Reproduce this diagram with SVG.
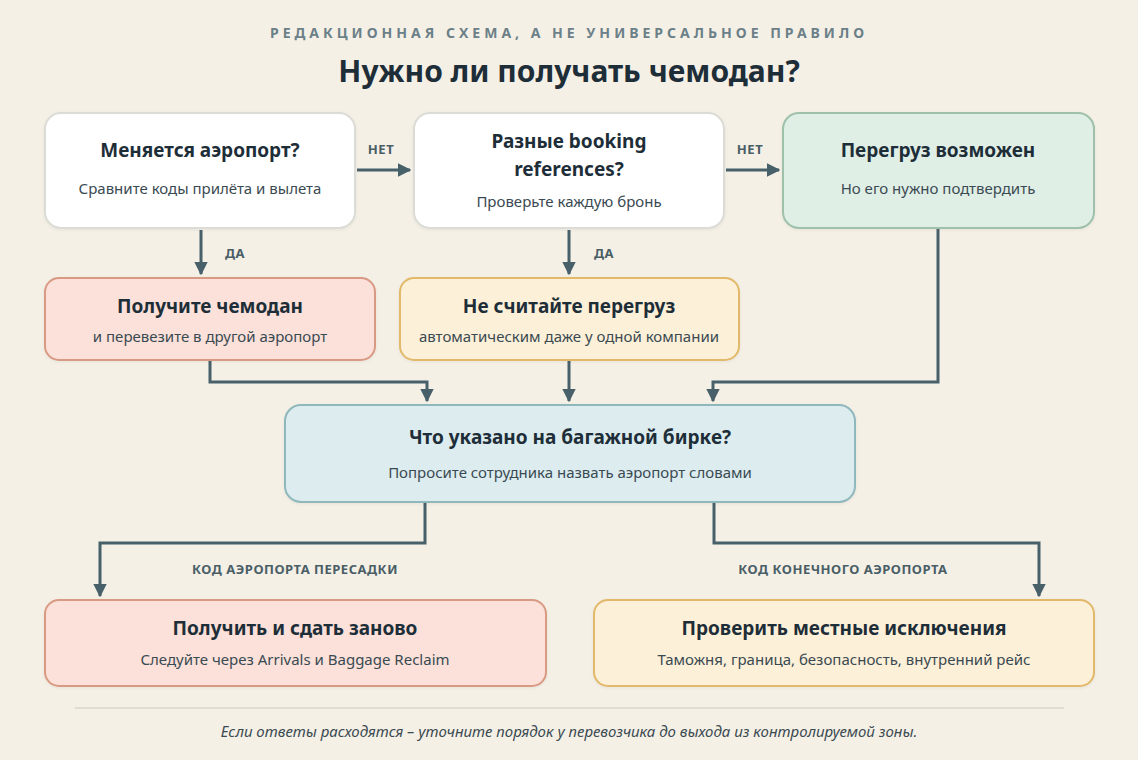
<svg xmlns="http://www.w3.org/2000/svg" width="1138" height="760" viewBox="0 0 1138 760">
<defs>
<marker id="ah" viewBox="0 0 10 10" refX="9" refY="5" markerWidth="4.5" markerHeight="4.5" orient="auto"><path d="M0,0 L10,5 L0,10 z" fill="#47606a"/></marker>
<filter id="sh" x="-5%" y="-5%" width="110%" height="120%"><feDropShadow dx="0" dy="1" stdDeviation="1.5" flood-color="#000" flood-opacity="0.06"/></filter>
</defs>
<style>
text{font-family:"Noto Sans","Open Sans","DejaVu Sans",sans-serif;fill:#1e2e38;text-anchor:middle}
.t{font-size:19px;font-weight:bold}
.s{font-size:15px;fill:#3a4a52}
.l{font-size:13px;font-weight:bold;fill:#4a5e66;letter-spacing:0.5px}
.c{fill:none;stroke:#47606a;stroke-width:3;marker-end:url(#ah)}
rect{stroke-width:2;filter:url(#sh)}
.w{fill:#fff;stroke:#dcdcd6}
.g{fill:#e0efe6;stroke:#9fc0aa}
.r{fill:#fbe1d9;stroke:#d99a84}
.y{fill:#fdf0d8;stroke:#e2b86a}
.b{fill:#dcecef;stroke:#8fb8bd}
</style>
<rect x="0" y="0" width="1138" height="760" fill="#f5f0e6" style="filter:none;stroke:none"/>
<text x="569" y="38" style="font-size:14px;font-weight:bold;fill:#6b8088;letter-spacing:4px">РЕДАКЦИОННАЯ СХЕМА, А НЕ УНИВЕРСАЛЬНОЕ ПРАВИЛО</text>
<text x="569" y="82" style="font-size:30px;font-weight:bold">Нужно ли получать чемодан?</text>
<g id="connectors">
<path class="c" d="M357,170 H410"/>
<path class="c" d="M726,170 H779"/>
<path class="c" d="M201,230 V274"/>
<path class="c" d="M569,230 V274"/>
<path class="c" d="M210,360 V382 H427 V401"/>
<path class="c" d="M569,360 V401"/>
<path class="c" d="M938,228 V382 H713 V401"/>
<path class="c" d="M425,503 V543 H100 V596"/>
<path class="c" d="M714,503 V543 H1039 V596"/>
<text class="l" x="381" y="154">НЕТ</text>
<text class="l" x="750" y="154">НЕТ</text>
<text class="l" x="235" y="258">ДА</text>
<text class="l" x="604" y="258">ДА</text>
<text class="l" x="295" y="574">КОД АЭРОПОРТА ПЕРЕСАДКИ</text>
<text class="l" x="843" y="574">КОД КОНЕЧНОГО АЭРОПОРТА</text>
</g>
<g id="n1"><rect class="w" x="45" y="113" width="310" height="115" rx="16"/><text class="t" x="200" y="157">Меняется аэропорт?</text><text class="s" x="200" y="194">Сравните коды прилёта и вылета</text></g>
<g id="n2"><rect class="w" x="414" y="113" width="310" height="115" rx="16"/><text class="t" x="569" y="148">Разные booking</text><text class="t" x="569" y="176">references?</text><text class="s" x="569" y="207">Проверьте каждую бронь</text></g>
<g id="n3"><rect class="g" x="783" y="113" width="311" height="115" rx="16"/><text class="t" x="938" y="157">Перегруз возможен</text><text class="s" x="938" y="194">Но его нужно подтвердить</text></g>
<g id="n4"><rect class="r" x="45" y="278" width="330" height="82" rx="14"/><text class="t" x="210" y="313">Получите чемодан</text><text class="s" x="210" y="342">и перевезите в другой аэропорт</text></g>
<g id="n5"><rect class="y" x="400" y="278" width="339" height="82" rx="14"/><text class="t" x="569" y="313">Не считайте перегруз</text><text class="s" x="569" y="342">автоматическим даже у одной компании</text></g>
<g id="n6"><rect class="b" x="285" y="405" width="570" height="97" rx="16"/><text class="t" x="570" y="444">Что указано на багажной бирке?</text><text class="s" x="570" y="478">Попросите сотрудника назвать аэропорт словами</text></g>
<g id="n7"><rect class="r" x="45" y="600" width="501" height="86" rx="14"/><text class="t" x="295" y="635">Получить и сдать заново</text><text class="s" x="295" y="665">Следуйте через Arrivals и Baggage Reclaim</text></g>
<g id="n8"><rect class="y" x="594" y="600" width="500" height="86" rx="14"/><text class="t" x="844" y="635">Проверить местные исключения</text><text class="s" x="844" y="665">Таможня, граница, безопасность, внутренний рейс</text></g>
<line x1="75" y1="708" x2="1064" y2="708" stroke="#d8d6cc" stroke-width="1.5"/>
<text x="569" y="737" style="font-size:15px;font-style:italic;fill:#3a4a52">Если ответы расходятся – уточните порядок у перевозчика до выхода из контролируемой зоны.</text>
</svg>
